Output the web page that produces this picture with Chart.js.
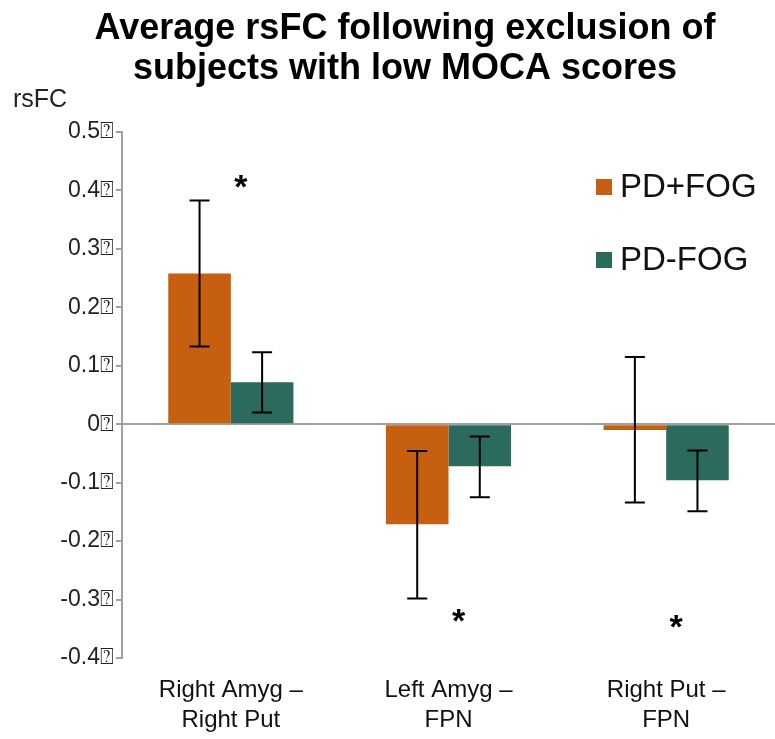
<!DOCTYPE html>
<html>
<head>
<meta charset="utf-8">
<script src="https://cdn.jsdelivr.net/npm/chart.js@4.4.1/dist/chart.umd.min.js"></script>
<style>
  html, body { margin: 0; padding: 0; background: #fff; }
  #wrap { width: 775px; height: 739px; }
</style>
</head>
<body>
<div id="wrap"><canvas id="rsfcChart" width="775" height="739"></canvas></div>
<script>
// values
const categories = [['Right Amyg –', 'Right Put'], ['Left Amyg –', 'FPN'], ['Right Put –', 'FPN']];
const seriesNames = ['PD+FOG', 'PD-FOG'];
const fogMean = [0.258, -0.171, -0.010];
const fogLow = [0.133, -0.298, -0.134];
const fogHigh = [0.383, -0.046, 0.115];
const noFogMean = [0.072, -0.072, -0.096];
const noFogLow = [0.020, -0.125, -0.149];
const noFogHigh = [0.123, -0.021, -0.045];
const starValues = [0.414, -0.330, -0.340]; // where the * marks sit
const yTickValues = [-0.4, -0.3, -0.2, -0.1, 0, 0.1, 0.2, 0.3, 0.4, 0.5];
const yTickLabels = ['-0.4', '-0.3', '-0.2', '-0.1', '0', '0.1', '0.2', '0.3', '0.4', '0.5'];

const orange = '#c65f0f';
const teal = '#2d6a5e';
const axisGray = '#a0a0a0';
const FONT = "'Liberation Sans', Arial, sans-serif";

// error bars, stars, title and legend drawn on top of the bars
const extrasPlugin = {
  id: 'extras',
  afterDatasetsDraw(chart) {
    const ctx = chart.ctx;
    const y = chart.scales.y;
    const x = chart.scales.x;
    const lows = [fogLow, noFogLow];
    const highs = [fogHigh, noFogHigh];

    ctx.save();
    ctx.strokeStyle = '#000';
    ctx.lineWidth = 2;
    chart.data.datasets.forEach((ds, di) => {
      chart.getDatasetMeta(di).data.forEach((bar, i) => {
        const top = y.getPixelForValue(highs[di][i]);
        const bot = y.getPixelForValue(lows[di][i]);
        const cap = 10;
        ctx.beginPath();
        ctx.moveTo(bar.x, top); ctx.lineTo(bar.x, bot);
        ctx.moveTo(bar.x - cap, top); ctx.lineTo(bar.x + cap, top);
        ctx.moveTo(bar.x - cap, bot); ctx.lineTo(bar.x + cap, bot);
        ctx.stroke();
      });
    });

    ctx.fillStyle = '#000';
    ctx.font = 'bold 34px ' + FONT;
    ctx.textAlign = 'center';
    ctx.textBaseline = 'middle';
    starValues.forEach((v, i) => {
      ctx.fillText('*', x.getPixelForValue(i) + 10, y.getPixelForValue(v) + 6);
    });
    ctx.restore();
  },
  afterDraw(chart) {
    const ctx = chart.ctx;
    ctx.save();
    ctx.fillStyle = '#000';
    ctx.textBaseline = 'middle';

    ctx.font = 'bold 36px ' + FONT;
    ctx.textAlign = 'center';
    ctx.fillText('Average rsFC following exclusion of', 405, 29);
    ctx.fillText('subjects with low MOCA scores', 405, 69);

    ctx.font = '25px ' + FONT;
    ctx.textAlign = 'left';
    ctx.fillStyle = '#222';
    ctx.fillText('rsFC', 13, 100);

    ctx.font = '33px ' + FONT;
    chart.data.datasets.forEach((ds, i) => {
      const cy = 187 + i * 73;
      ctx.fillStyle = ds.backgroundColor;
      ctx.fillRect(596, cy - 8, 16, 16);
      ctx.fillStyle = '#111';
      ctx.fillText(ds.label, 620, cy + 1);
    });
    ctx.restore();
  }
};

new Chart(document.getElementById('rsfcChart').getContext('2d'), {
  type: 'bar',
  data: {
    labels: categories,
    datasets: [
      { label: seriesNames[0], data: fogMean, backgroundColor: orange },
      { label: seriesNames[1], data: noFogMean, backgroundColor: teal }
    ]
  },
  options: {
    responsive: false,
    animation: false,
    devicePixelRatio: 1,
    layout: { padding: { top: 132, right: 0, left: 0, bottom: 0 } },
    datasets: { bar: { categoryPercentage: 0.575, barPercentage: 1 } },
    plugins: {
      legend: { display: false },
      title: { display: false },
      tooltip: { enabled: false }
    },
    scales: {
      x: {
        grid: { display: false, drawTicks: false },
        border: { display: false },
        ticks: {
          color: '#111',
          font: { family: FONT, size: 24, lineHeight: 1.25 },
          padding: 17,
          maxRotation: 0
        },
        afterFit(scale) { scale.height = 81; }
      },
      y: {
        min: -0.4,
        max: 0.5,
        afterBuildTicks(scale) { scale.ticks = yTickValues.map(v => ({ value: v })); },
        border: { display: true, color: axisGray, width: 2 },
        grid: {
          drawOnChartArea: true,
          color: c => (c.tick && c.tick.value === 0 ? axisGray : 'rgba(0,0,0,0)'),
          lineWidth: 2,
          tickColor: axisGray,
          tickLength: 6
        },
        ticks: {
          color: '#222',
          font: { family: FONT + ", 'DejaVu Sans'", size: 23 },
          padding: 2,
          callback: (v) => {
            const i = yTickValues.findIndex(t => Math.abs(t - v) < 1e-9);
            return (i >= 0 ? yTickLabels[i] : '') + '\u2370';
          }
        },
        afterFit(scale) { scale.width = 122; }
      }
    }
  },
  plugins: [extrasPlugin]
});
</script>
</body>
</html>
